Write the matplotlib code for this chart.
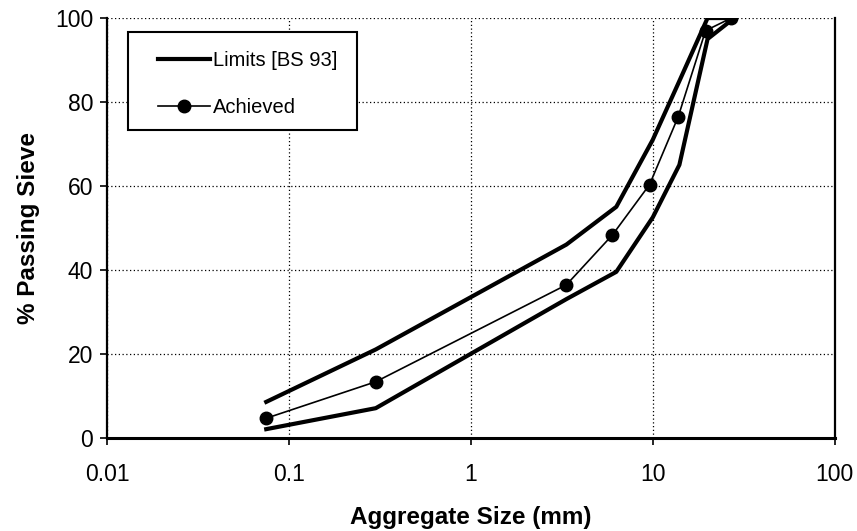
import matplotlib.pyplot as plt
from matplotlib.patches import Rectangle
from matplotlib.ticker import FixedLocator, FixedFormatter, NullLocator

plt.rcParams['font.family'] = ['Liberation Sans', 'DejaVu Sans']

# Gradação - limites BS e curva obtida
upper_size = [0.075, 0.3, 3.35, 6.3, 10, 14, 20, 28]
upper_pass = [8.5, 21, 46, 55, 71, 85, 100, 100]

lower_size = [0.075, 0.3, 3.35, 6.3, 10, 14, 20, 28]
lower_pass = [2, 7, 33, 39.5, 52.5, 65, 95, 100]

achieved_size = [0.075, 0.3, 3.35, 6.0, 9.6, 13.8, 19.5, 27]
achieved_pass = [4.6, 13.3, 36.4, 48.3, 60.3, 76.5, 97, 100]

x_ticks = [0.01, 0.1, 1, 10, 100]
x_labels = ['0.01', '0.1', '1', '10', '100']
y_ticks = [0, 20, 40, 60, 80, 100]

fig = plt.figure(figsize=(8.57, 5.31), dpi=100)
ax = fig.add_axes([0.1249, 0.176, 0.8491, 0.790])

ax.plot(upper_size, upper_pass, color='black', linewidth=3, label='Limits [BS 93]')
ax.plot(lower_size, lower_pass, color='black', linewidth=3)
ax.plot(achieved_size, achieved_pass, color='black', linewidth=1.2, marker='o',
        markersize=9, label='Achieved')

ax.set_xscale('log')
ax.set_xlim(0.01, 100)
ax.set_ylim(0, 100)
ax.xaxis.set_major_locator(FixedLocator(x_ticks))
ax.xaxis.set_major_formatter(FixedFormatter(x_labels))
ax.xaxis.set_minor_locator(NullLocator())
ax.set_yticks(y_ticks)

ax.grid(True, which='major', color='black', linestyle=(0, (1, 2)), linewidth=0.9)
ax.tick_params(axis='both', direction='out', length=5, width=1.2, labelsize=16.5)
ax.tick_params(axis='x', pad=13)
ax.tick_params(axis='y', pad=5)

for side in ['left', 'bottom', 'right']:
    ax.spines[side].set_linewidth(1.6)
ax.spines['top'].set_visible(False)
ax.spines['bottom'].set_linewidth(2.2)

ax.set_xlabel('Aggregate Size (mm)', fontsize=17.5, fontweight='bold', labelpad=15)
ax.set_ylabel('% Passing Sieve', fontsize=17.5, fontweight='bold', labelpad=11)

# caixa da legenda
box = Rectangle((0.029, 0.733), 0.314, 0.234, transform=ax.transAxes,
                facecolor='white', edgecolor='black', linewidth=1.5, zorder=4)
ax.add_patch(box)
leg = ax.legend(loc='upper left', bbox_to_anchor=(0.070, 0.922), fontsize=14.5,
                frameon=False, handlelength=2.6, borderpad=0, labelspacing=1.4,
                handletextpad=0.15, borderaxespad=0)
leg.set_zorder(5)

plt.savefig('out.png', dpi=100)
